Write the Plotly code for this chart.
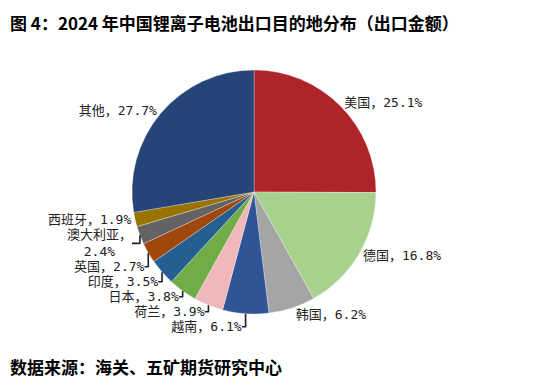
import plotly.graph_objects as go

categories = ["美国", "德国", "韩国", "越南", "荷兰", "日本", "印度", "英国", "澳大利亚", "西班牙", "其他"]
shares = [25.1, 16.8, 6.2, 6.1, 3.9, 3.8, 3.5, 2.7, 2.4, 1.9, 27.7]
colors = ["#AE2429", "#A9D18E", "#A5A5A5", "#2F5597", "#F1B8BC", "#70AD47",
          "#255E91", "#9E480E", "#636363", "#997300", "#264478"]
title_text = "图 4：2024 年中国锂离子电池出口目的地分布（出口金额）"
source_text = "数据来源：海关、五矿期货研究中心"

W, H = 533, 389
OFF = 8  # page body margin
cx, cy, r = 254 - OFF, 192 - OFF, 122

label_font = "DejaVu Sans Mono, Noto Sans CJK SC"
label_texts = [
    (f"{c}，<br>{v:.1f}%" if len(c) >= 4 else f"{c}，{v:.1f}%")
    for c, v in zip(categories, shares)
]

fig = go.Figure(go.Pie(
    labels=categories,
    values=shares,
    text=label_texts,
    sort=False,
    direction="clockwise",
    rotation=0,
    marker=dict(colors=colors, line=dict(color="#FFFFFF", width=0.3)),
    textposition="outside",
    texttemplate="%{text}",
    textfont=dict(family=label_font, size=13, color="#222222"),
    showlegend=False,
    domain=dict(x=[(cx - r) / W, (cx + r) / W], y=[1 - (cy + r) / H, 1 - (cy - r) / H]),
    hoverinfo="label+value",
))

fig.add_annotation(text="<b>" + title_text + "</b>", x=0, y=1 - (22 - OFF) / H,
                   xref="paper", yref="paper", xanchor="left", yanchor="middle",
                   showarrow=False, font=dict(family="Noto Sans CJK SC", size=17, color="#000000"))
fig.add_annotation(text="<b>" + source_text + "</b>", x=0, y=1 - (366 - OFF) / H,
                   xref="paper", yref="paper", xanchor="left", yanchor="middle",
                   showarrow=False, font=dict(family="Noto Sans CJK SC", size=17, color="#000000"))

fig.update_layout(width=W, height=H, margin=dict(l=0, r=0, t=0, b=0),
                  paper_bgcolor="white", plot_bgcolor="white")
fig.write_html("out.html")
